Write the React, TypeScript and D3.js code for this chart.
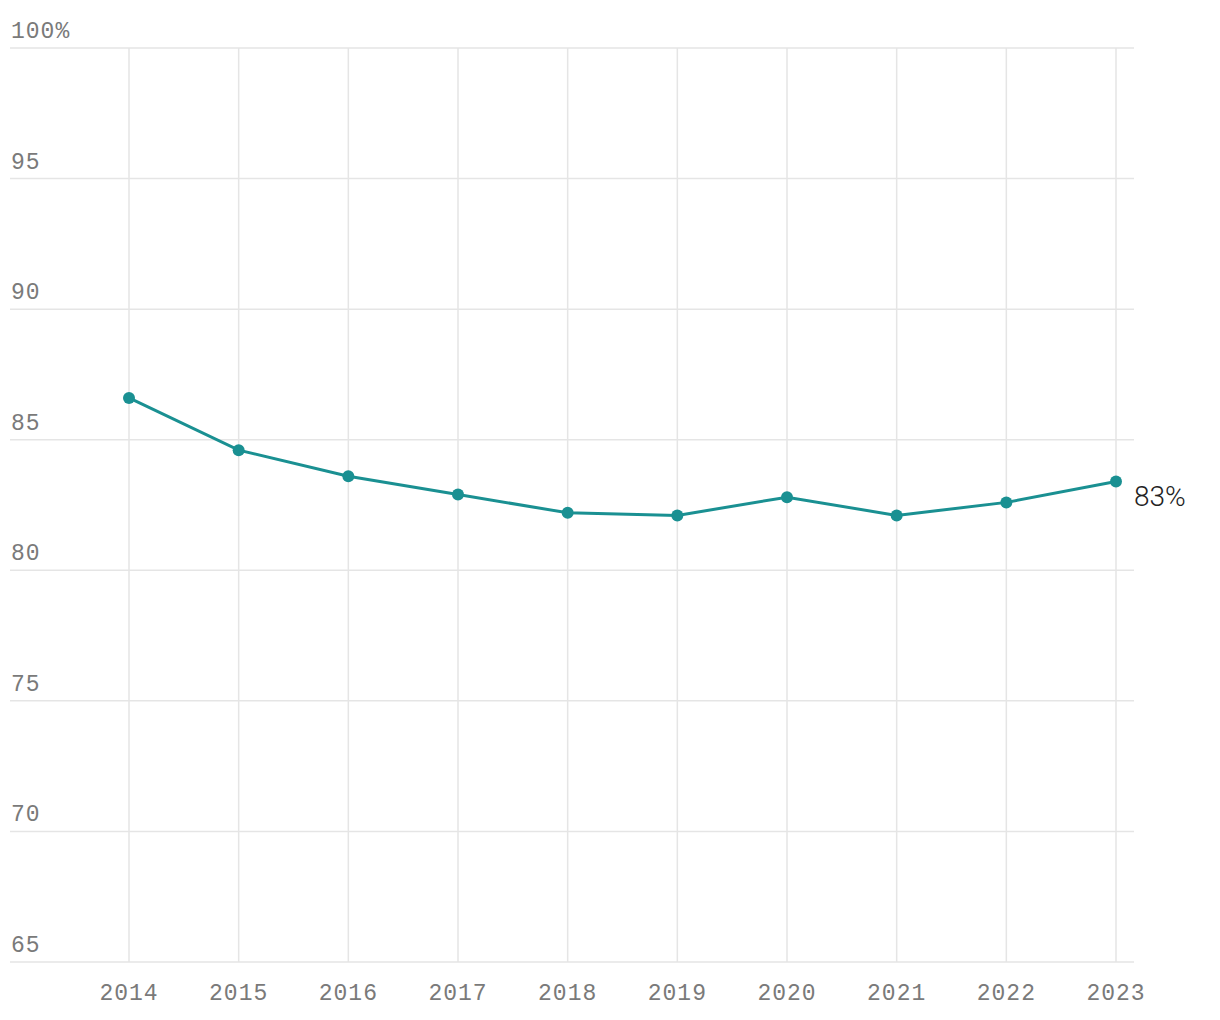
import React from "react";
import * as d3 from "d3";

const years = [2014, 2015, 2016, 2017, 2018, 2019, 2020, 2021, 2022, 2023];
const values = [86.6, 84.6, 83.6, 82.9, 82.2, 82.1, 82.8, 82.1, 82.6, 83.4];
const yTicks = [65, 70, 75, 80, 85, 90, 95, 100];

export default function App() {
  const W = 1220, H = 1020;
  const x = d3.scaleLinear().domain([2014, 2023]).range([129, 1116]);
  const y = d3.scaleLinear().domain([65, 100]).range([962, 48]);
  const line = d3.line<number>().x((_, i) => x(years[i])).y((d) => y(d));
  const color = "#1a9092";
  const font = "'Liberation Mono', monospace";
  return (
    <svg width={W} height={H} style={{ position: "absolute", left: 0, top: 0, background: "#fff" }}>
      {years.map((yr) => (
        <line key={yr} x1={x(yr)} x2={x(yr)} y1={y(100)} y2={y(65)} stroke="#e5e5e5" strokeWidth={1.5} />
      ))}
      {yTicks.map((t) => (
        <g key={t}>
          <line x1={10} x2={1134} y1={y(t)} y2={y(t)} stroke="#e5e5e5" strokeWidth={1.5} />
          <text x={11} y={y(t) - 10} fontFamily={font} fontSize={23} fill="#7a7a7a" letterSpacing={1}>
            {t === 100 ? "100%" : t}
          </text>
        </g>
      ))}
      {years.map((yr) => (
        <text key={yr} x={x(yr)} y={1000} textAnchor="middle" fontFamily={font} fontSize={23} fill="#7a7a7a" letterSpacing={1}>
          {yr}
        </text>
      ))}
      <path d={line(values) || ""} fill="none" stroke={color} strokeWidth={3} />
      {values.map((v, i) => (
        <circle key={i} cx={x(years[i])} cy={y(v)} r={6} fill={color} />
      ))}
      <text x={x(2023) + 18} y={506} fontFamily="Roboto, 'DejaVu Sans', sans-serif" fontWeight={300} fontSize={28} fill="#222">
        83%
      </text>
    </svg>
  );
}
